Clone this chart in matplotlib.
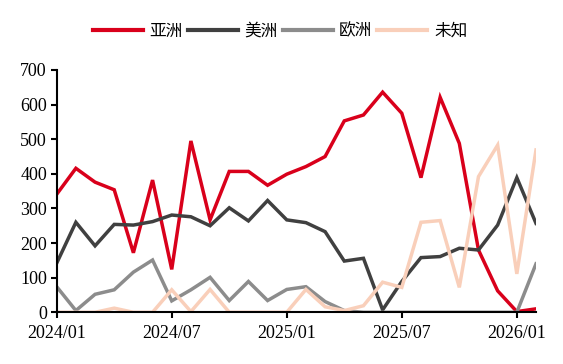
import matplotlib
matplotlib.use("Agg")
import matplotlib.pyplot as plt
import numpy as np

months = ["2024/01","2024/02","2024/03","2024/04","2024/05","2024/06","2024/07","2024/08","2024/09","2024/10","2024/11","2024/12",
          "2025/01","2025/02","2025/03","2025/04","2025/05","2025/06","2025/07","2025/08","2025/09","2025/10","2025/11","2025/12",
          "2026/01","2026/02"]
tick_labels = ["2024/01","2024/07","2025/01","2025/07","2026/01"]

asia = [341,416,376,354,172,382,124,495,267,407,407,367,399,421,450,553,570,636,575,389,621,488,180,62,2,10]
america = [142,260,192,254,252,262,281,276,250,302,264,323,267,259,233,148,156,7,89,158,161,185,180,252,389,257]
europe = [74,5,52,65,116,151,33,65,101,34,89,34,66,74,31,5,0,0,0,0,0,0,0,0,0,140]
unknown = [0,0,0,12,0,0,65,2,66,0,0,0,0,66,16,5,19,87,72,260,265,72,392,483,111,469]

names = ["亚洲","美洲","欧洲","未知"]
colors = ["#D9001B","#404040","#8C8C8C","#F9CFBA"]

plt.rcParams['font.family'] = ['Liberation Serif', 'Noto Sans CJK SC']

fig = plt.figure(figsize=(5.63,3.64), dpi=100)
ax = fig.add_axes([56.7/563, 1-312.3/364, (536-56.7)/563, (312.3-70)/364])

x = np.arange(len(months))
for vals, nm, c in zip([asia, america, europe, unknown], names, colors):
    ax.plot(x, vals, color=c, lw=2.5, label=nm, solid_joinstyle='miter')

ax.set_xlim(0, len(months)-1)
ax.set_ylim(0, 700)
ax.set_yticks(range(0, 701, 100))
ax.set_xticks([months.index(t) for t in tick_labels])
ax.set_xticklabels(tick_labels)
for s in ['top','right']:
    ax.spines[s].set_visible(False)
for s in ['left','bottom']:
    ax.spines[s].set_linewidth(1.5)
ax.tick_params(axis='both', direction='out', width=1.5, length=4, labelsize=13, colors='black')
ax.tick_params(axis='x', pad=5)
ax.tick_params(axis='y', pad=3)

leg = fig.legend(loc='center', bbox_to_anchor=(280/563, 1-31/364), ncol=4, frameon=False,
                 prop={'family':'Noto Sans CJK SC','size':12}, handlelength=3.0,
                 columnspacing=0.3, handletextpad=0.4)
for h in leg.get_lines():
    h.set_linewidth(3)

fig.savefig("out.png", dpi=100)
